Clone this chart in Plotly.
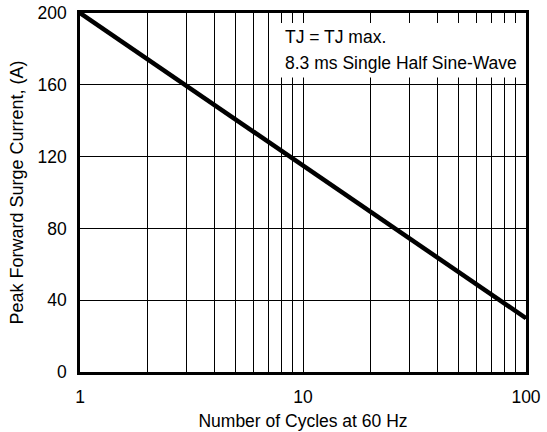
import plotly.graph_objects as go

# Data
cycles = [1, 100]
surge_current = [200, 30]

x_grid_vals = [1, 2, 3, 4, 5, 6, 7, 8, 9, 10, 20, 30, 40, 50, 60, 70, 80, 90, 100]
x_tick_text = ["1", "", "", "", "", "", "", "", "", "10", "", "", "", "", "", "", "", "", "100"]
y_tick_vals = [0, 40, 80, 120, 160, 200]

note_lines = ["TJ = TJ max.", "8.3 ms Single Half Sine-Wave"]

FONT = "Liberation Sans, Arial, sans-serif"

fig = go.Figure()
fig.add_trace(go.Scatter(
    x=cycles, y=surge_current, mode="lines",
    line=dict(color="black", width=4.5),
    showlegend=False, hoverinfo="skip",
))

fig.update_layout(
    width=547, height=432,
    margin=dict(l=80, r=21, t=13, b=60, autoexpand=False),
    paper_bgcolor="white", plot_bgcolor="white",
    font=dict(family=FONT, color="black", size=17),
    xaxis=dict(
        type="log", range=[0, 2], automargin=False,
        tickmode="array", tickvals=x_grid_vals, ticktext=x_tick_text,
        showgrid=True, gridcolor="black", gridwidth=1,
        showline=True, linecolor="black", linewidth=2.5, mirror=True,
        ticks="", zeroline=False, ticklabelstandoff=7, ticklabeloverflow="allow",
        tickfont=dict(size=17.5),
        title=dict(text="Number of Cycles at 60 Hz", font=dict(size=17.5), standoff=9),
    ),
    yaxis=dict(
        range=[0, 200], automargin=False,
        tickmode="array", tickvals=y_tick_vals,
        showgrid=True, gridcolor="black", gridwidth=1,
        showline=True, linecolor="black", linewidth=2.5, mirror=True,
        ticks="", zeroline=False, ticklabelstandoff=7, ticklabeloverflow="allow",
        tickfont=dict(size=17.5),
        title=dict(text="Peak Forward Surge Current, (A)", font=dict(size=18), standoff=10),
    ),
)

# White note box
fig.add_shape(
    type="rect", xref="paper", yref="paper",
    x0=0.43, x1=0.994, y0=0.82, y1=0.972,
    fillcolor="white", line=dict(width=0), layer="above",
)
fig.add_annotation(
    xref="paper", yref="paper", x=0.455, y=0.933,
    text=note_lines[0], showarrow=False, xanchor="left", yanchor="middle",
    font=dict(size=17.5),
)
fig.add_annotation(
    xref="paper", yref="paper", x=0.455, y=0.861,
    text=note_lines[1], showarrow=False, xanchor="left", yanchor="middle",
    font=dict(size=17.5),
)

fig.write_html(
    "out.html",
    config={"displayModeBar": False},
    post_script="document.body.style.margin='0';document.body.style.overflow='hidden';",
)
